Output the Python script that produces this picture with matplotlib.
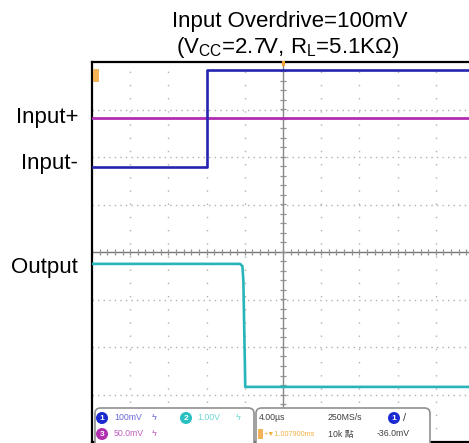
import matplotlib
matplotlib.use("Agg")
import matplotlib.pyplot as plt
from matplotlib.patches import FancyBboxPatch, Rectangle
import numpy as np

plt.rcParams['font.family'] = ['Liberation Sans', 'DejaVu Sans']
plt.rcParams['mathtext.fontset'] = 'custom'
plt.rcParams['mathtext.rm'] = 'Liberation Sans'

W, H = 469, 443

# ---- data (time in µs, amplitude in screen divisions) ----
ch1_t = [-20.0, -7.96, -7.96, 20.0]
ch1_v = [1.79, 1.79, 3.83, 3.83]
ch3_t = [-20.0, 20.0]
ch3_v = [2.82, 2.82]
ch2_t = [-20.0, -4.5, -4.25, -4.15, -3.95, 20.0]
ch2_v = [-0.25, -0.25, -0.30, -0.60, -2.84, -2.84]

title_lines = ["Input Overdrive=100mV",
               r"(V$_\mathregular{CC}$=2.7V, R$_\mathregular{L}$=5.1KΩ)"]
trace_labels = ["Input+", "Input-", "Output"]
label_y_px = [118, 164, 267]

x_major = np.arange(-20, 21, 4)
y_major = np.arange(-4, 5, 1)

blue = '#2424b0'
mag = '#b02db2'
cyan = '#26b6ba'
orange = '#f0a030'

fig = plt.figure(figsize=(W / 100, H / 100), dpi=100)
left, top, right, bottom = 92, 62, 474, 442
ax = fig.add_axes([left / W, 1 - bottom / H, (right - left) / W, (bottom - top) / H])
ax.set_xlim(-20, 20)
ax.set_ylim(-4, 4)
ax.set_xticks([])
ax.set_yticks([])
for s in ['left', 'top', 'bottom']:
    ax.spines[s].set_color('black')
    ax.spines[s].set_linewidth(1.6)
ax.spines['right'].set_visible(False)

# dotted grid
for xv in x_major:
    if xv not in (-20, 0, 20):
        ax.axvline(xv, color='#b0b0b0', lw=1.0, ls=(0, (1, 8.5)), zorder=1)
for yv in y_major:
    if yv not in (-4, 0, 4):
        ax.axhline(yv, color='#b0b0b0', lw=1.0, ls=(0, (1, 3)), zorder=1)

# center cross with minor ticks
ax.axvline(0, color='#888888', lw=1.0, zorder=1)
ax.axhline(0, color='#777777', lw=1.0, zorder=1)
xt = np.arange(-20, 20.01, 0.8)
yt = np.arange(-4, 4.01, 0.2)
ax.plot(xt, np.zeros_like(xt), ls='none', marker='|', ms=5, mew=0.9, color='#909090', zorder=1)
ax.plot(np.zeros_like(yt), yt, ls='none', marker='_', ms=5, mew=0.9, color='#909090', zorder=1)

# traces
ax.plot(ch3_t, ch3_v, color=mag, lw=2.0, zorder=3)
ax.plot(ch1_t, ch1_v, color=blue, lw=1.9, zorder=4)
ax.plot(ch2_t, ch2_v, color=cyan, lw=1.9, zorder=4)

def fx(px):
    return px / W
def fy(py):
    return 1 - py / H

# orange markers
fig.patches.append(Rectangle((fx(93), fy(82)), 6 / W, 13 / H, transform=fig.transFigure,
                             facecolor=orange, edgecolor='none', alpha=0.8, zorder=6))
fig.patches.append(Rectangle((fx(282), fy(66)), 3 / W, 5 / H, transform=fig.transFigure,
                             facecolor=orange, edgecolor='none', zorder=6))

# info panels
for x0, x1 in [(95, 254), (256, 430)]:
    p = FancyBboxPatch((fx(x0), fy(452)), (x1 - x0) / W, 44 / H,
                       boxstyle="round,pad=0,rounding_size=0.012",
                       transform=fig.transFigure, facecolor='white',
                       edgecolor='#909090', lw=1.2, zorder=7)
    fig.patches.append(p)

def circ(x, y, n, c):
    fig.text(fx(x), fy(y), n, color='white', fontsize=6, fontweight='bold',
             ha='center', va='center', zorder=9,
             bbox=dict(boxstyle='circle,pad=0.3', fc=c, ec='none'))

def t(x, y, s, c, fs=6.3):
    fig.text(fx(x), fy(y), s, color=c, fontsize=fs, ha='left', va='center', zorder=9,
             family=['Liberation Sans', 'Noto Sans CJK TC', 'DejaVu Sans'])

circ(102, 418, "1", '#1a2ad0')
t(114, 418, "100mV", '#6a6ad8')
t(152, 418, "ϟ", '#6a6ad8', 6.5)
circ(186, 418, "2", '#28c0c0')
t(197, 418, "1.00V", '#70d4d4')
t(236, 418, "ϟ", '#70d4d4', 6.5)
circ(102, 434, "3", '#b030b0')
t(114, 434, "50.0mV", '#c060c0')
t(152, 434, "ϟ", '#c060c0', 6.5)

t(259, 418, "4.00µs", '#404040')
t(328, 418, "250MS/s", '#404040')
circ(394, 418, "1", '#1a2ad0')
t(403, 418, "/", '#404040', 8)
fig.patches.append(Rectangle((fx(258), fy(439)), 5 / W, 10 / H, transform=fig.transFigure,
                             facecolor=orange, edgecolor='none', alpha=0.8, zorder=9))
t(264, 434, "+▼1.007900ms", '#f0b040', 5.2)
t(328, 434, "10k 點", '#404040')
t(377, 434, "-36.0mV", '#404040')

# title and labels
fig.text(fx(289.5), fy(22), title_lines[0], fontsize=16, ha='center', va='center')
fig.text(fx(288), fy(47), title_lines[1], fontsize=16, ha='center', va='center')
for lab, yp in zip(trace_labels, label_y_px):
    fig.text(fx(78), fy(yp), lab, fontsize=16, ha='right', va='center')

fig.savefig("out.png", dpi=100)
